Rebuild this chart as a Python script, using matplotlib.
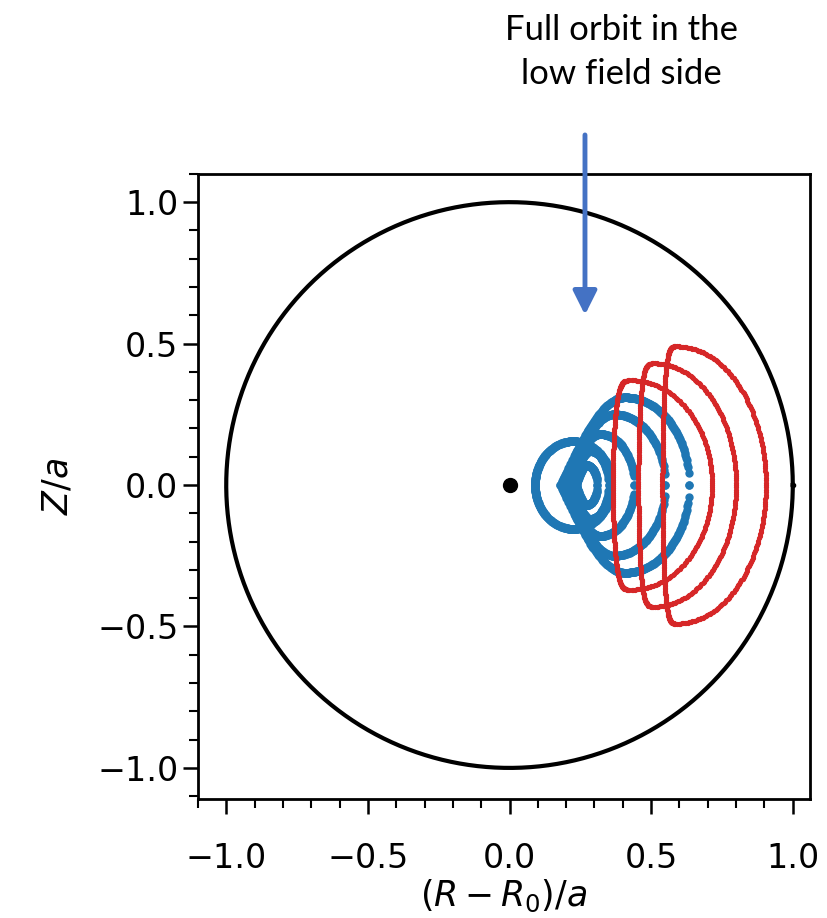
import numpy as np
import matplotlib
matplotlib.use("Agg")
import matplotlib.pyplot as plt
from matplotlib.ticker import MultipleLocator

plt.rcParams["font.family"] = ["DejaVu Sans"]
plt.rcParams["mathtext.fontset"] = "dejavusans"

# orbit outlines, in units of a
# red: D-shaped orbits (left side, x of the top point, right side, half height)
red_left = [0.365, 0.455, 0.54]
red_top_x = [0.43, 0.51, 0.59]
red_right = [0.715, 0.80, 0.905]
red_half_height = [0.37, 0.43, 0.49]

# blue: pointed orbits with tip on the left
blue_tip = [0.235, 0.22, 0.20, 0.19, 0.18]
blue_right = [0.31, 0.35, 0.44, 0.55, 0.635]
blue_half_height = [0.07, 0.12, 0.18, 0.25, 0.31]

# blue passing orbit (ellipse): centre, half width, half height
blue_ring = [0.225, 0.135, 0.155]

ticks = [-1.0, -0.5, 0.0, 0.5, 1.0]
note = "Full orbit in the\nlow field side"

RED = "#d62728"
BLUE = "#1f77b4"


def d_shape(xl, xm, xr, h, n=320):
    th = np.linspace(0, 2 * np.pi, n, endpoint=False)
    c, s = np.cos(th), np.sin(th)
    x = np.where(c >= 0, xm + (xr - xm) * c, xm - (xm - xl) * np.sqrt(np.abs(c)))
    return x, h * s


def tear_shape(xt, xr, h, n=300):
    t = np.linspace(0, 1, n // 2)
    g = np.where(t < 0.5, np.sin(np.pi * t), np.sqrt(np.clip(1 - (2 * t - 1) ** 2, 0, 1)))
    x = xt + (xr - xt) * t
    return np.concatenate([x, x[::-1]]), np.concatenate([h * g, -h * g[::-1]])


fig = plt.figure(figsize=(8.28, 9.18), dpi=100)
ax = fig.add_axes([0.239, 0.1296, 0.739, 0.681])

# boundary and magnetic axis
phi = np.linspace(0, 2 * np.pi, 400)
ax.plot(np.cos(phi), np.sin(phi), color="black", lw=3.0)
ax.plot([0], [0], "o", color="black", ms=10)
ax.plot([1.0], [0], "o", color="black", ms=3)

# blue orbits
x, y = blue_ring[0] + blue_ring[1] * np.cos(phi), blue_ring[2] * np.sin(phi)
ax.plot(x, y, ".", color=BLUE, ms=10)
for xt, xr, h in zip(blue_tip, blue_right, blue_half_height):
    x, y = tear_shape(xt, xr, h, n=int(120 + 900 * h))
    ax.plot(x, y, ".", color=BLUE, ms=10)

# red orbits on top
for xl, xm, xr, h in zip(red_left, red_top_x, red_right, red_half_height):
    x, y = d_shape(xl, xm, xr, h, n=int(500 * h + 120))
    ax.plot(x, y, ".", color=RED, ms=5.5)

ax.set_xlim(-1.1, 1.06)
ax.set_ylim(-1.11, 1.10)
ax.set_xticks(ticks)
ax.set_yticks(ticks)
ax.xaxis.set_minor_locator(MultipleLocator(0.1))
ax.yaxis.set_minor_locator(MultipleLocator(0.1))
ax.tick_params(which="major", length=11, width=1.8, labelsize=24)
ax.tick_params(which="minor", length=6.5, width=1.5)
ax.tick_params(axis="x", which="major", pad=20)
ax.tick_params(axis="y", which="major", pad=3)
for sp in ax.spines.values():
    sp.set_linewidth(2.0)

ax.set_xlabel(r"$(R-R_0)/a$", fontsize=25, labelpad=2)
ax.set_ylabel(r"$Z/a$", fontsize=25, labelpad=16)

# annotation above the plot
fig.text(0.751, 0.943, note, ha="center", va="center", fontsize=25,
         family=["Lato", "DejaVu Sans"], linespacing=1.45)
ax.annotate("", xy=(0.7065, 0.657), xytext=(0.7065, 0.853),
            xycoords="figure fraction", textcoords="figure fraction",
            arrowprops=dict(arrowstyle="-|>", color="#4472c4", lw=3.5,
                            mutation_scale=36, shrinkA=0, shrinkB=0))

fig.savefig("out.png", dpi=100)
